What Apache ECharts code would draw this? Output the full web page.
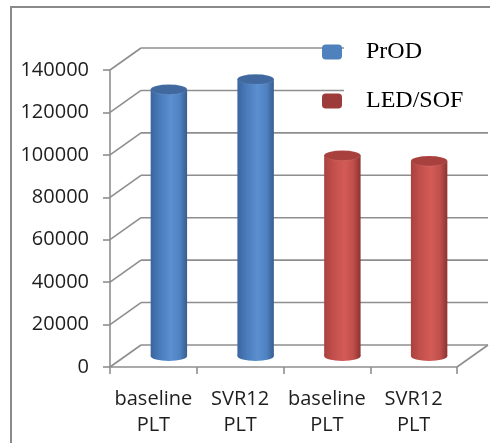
<!DOCTYPE html>
<html>
<head>
<meta charset="utf-8">
<script src="https://cdn.jsdelivr.net/npm/echarts@6/dist/echarts.min.js"></script>
<style>
html,body{margin:0;padding:0;background:#fff;}
#chart{width:490px;height:443px;}
</style>
</head>
<body>
<div id="chart"></div>
<script>
// ---- data ----
const categories = ['baseline\nPLT', 'SVR12\nPLT', 'baseline\nPLT', 'SVR12\nPLT'];
const seriesNames = ['PrOD', 'LED/SOF'];
const prodValues = [125600, 130400, null, null];
const ledSofValues = [null, null, 94500, 91900];
const yTicks = [0, 20000, 40000, 60000, 80000, 100000, 120000, 140000];
const yMin = 0, yMax = 140000, yStep = 20000;

// ---- style constants ----
const DX = 31, DY = -22;          // depth offset of back wall
const GRID_COLOR = '#8e8e8e';
const TEXT_COLOR = '#1e1e1e';
const SANS = '"Open Sans", "Liberation Sans", sans-serif';
const SERIF = '"Liberation Serif", "DejaVu Serif", serif';

const palettes = {
  'PrOD': {
    legend: '#4F81BD',
    body: [['#3a659f', 0], ['#4a7bbb', 0.25], ['#5b8fd0', 0.55], ['#4f82c0', 0.8], ['#375d91', 1]],
    top: '#41699f'
  },
  'LED/SOF': {
    legend: '#9c3b39',
    body: [['#a9423f', 0], ['#c24f4b', 0.25], ['#d35b57', 0.55], ['#c04f4b', 0.8], ['#8c3330', 1]],
    top: '#a8413e'
  }
};

function gradient(stops) {
  return new echarts.graphic.LinearGradient(0, 0, 1, 0,
    stops.map(s => ({ offset: s[1], color: s[0] })));
}

function wallRender(params, api) {
  const cs = params.coordSys;
  const v = api.value(1);
  const y = api.coord([0, v])[1];
  const x0 = cs.x, x1 = cs.x + cs.width;
  const style = { stroke: GRID_COLOR, lineWidth: 1.6, fill: null };
  const children = [
    { type: 'line', shape: { x1: x0, y1: y, x2: x0 + DX, y2: y + DY }, style },
    { type: 'line', shape: { x1: x0 + DX, y1: y + DY, x2: x1 + DX, y2: y + DY }, style }
  ];
  if (v === yMin) {
    children.push({ type: 'line', shape: { x1: x1, y1: y, x2: x1 + DX, y2: y + DY }, style });
  }
  return { type: 'group', children };
}

function barRender(name) {
  return function (params, api) {
    const idx = api.value(0);
    const val = api.value(1);
    if (val == null || isNaN(val)) return null;
    const top = api.coord([idx, val]);
    const base = api.coord([idx, yMin]);
    const band = api.size([1, 0])[0];
    const w = band * 0.42;
    const r = w / 2;
    const ry = 5;
    const cx = top[0] + DX / 2;
    const ty = top[1] + DY / 2;
    const by = base[1] + DY / 2;
    const pal = palettes[name];
    const body = gradient(pal.body);
    return {
      type: 'group',
      children: [
        { type: 'circle', x: cx, y: by, scaleY: ry / r, shape: { cx: 0, cy: 0, r: r }, style: { fill: body } },
        { type: 'rect', shape: { x: cx - r, y: ty, width: w, height: by - ty }, style: { fill: body } },
        { type: 'circle', x: cx, y: ty, scaleY: ry / r, shape: { cx: 0, cy: 0, r: r },
          style: { fill: pal.top, stroke: 'rgba(255,255,255,0.15)', lineWidth: 0.8 } }
      ]
    };
  };
}

const chart = echarts.init(document.getElementById('chart'), null, { renderer: 'canvas' });

const option = {
  animation: false,
  backgroundColor: '#fff',
  grid: { left: 110, right: 33, top: 70, bottom: 76, containLabel: false },
  xAxis: {
    type: 'category',
    data: categories,
    axisLine: { show: true, lineStyle: { color: GRID_COLOR, width: 1.6 } },
    axisTick: { show: true, length: 7, lineStyle: { color: GRID_COLOR, width: 1.6 } },
    axisLabel: { fontFamily: SANS, fontSize: 20, lineHeight: 26, color: TEXT_COLOR, margin: 19, interval: 0 },
    splitLine: { show: false }
  },
  yAxis: {
    type: 'value',
    min: yMin, max: yMax, interval: yStep,
    axisLine: { show: true, lineStyle: { color: GRID_COLOR, width: 1.6 } },
    axisTick: { show: true, length: 7, lineStyle: { color: GRID_COLOR, width: 1.6 } },
    axisLabel: { fontFamily: SANS, fontSize: 20, color: TEXT_COLOR, margin: 21,
      formatter: v => yTicks.indexOf(v) >= 0 ? String(v) : '' },
    splitLine: { show: false }
  },
  legend: {
    orient: 'vertical',
    left: 322, top: 40, padding: 0,
    itemWidth: 20, itemHeight: 15, itemGap: 25,
    icon: 'roundRect',
    symbolKeepAspect: false,
    data: seriesNames.map(n => ({ name: n, itemStyle: { color: palettes[n].legend, borderWidth: 0 } })),
    textStyle: { fontFamily: SERIF, fontSize: 24, lineHeight: 24, color: '#000', padding: [0, 0, 0, 19] },
    selectedMode: false,
    z: 6
  },
  graphic: [
    { type: 'rect', z: -1, shape: { x: 11, y: 7, width: 600, height: 600 },
      style: { fill: null, stroke: '#8a8a8a', lineWidth: 2 } },
    { type: 'rect', z: 4, shape: { x: 344, y: 30, width: 150, height: 88 },
      style: { fill: '#fff' } }
  ],
  series: [
    {
      type: 'custom', name: 'walls', clip: false, z: 1, silent: true,
      renderItem: wallRender,
      data: yTicks.map(v => [0, v])
    },
    {
      type: 'custom', name: seriesNames[0], clip: false, z: 2,
      itemStyle: { color: palettes['PrOD'].legend },
      renderItem: barRender('PrOD'),
      data: prodValues.map((v, i) => [i, v])
    },
    {
      type: 'custom', name: seriesNames[1], clip: false, z: 2,
      itemStyle: { color: palettes['LED/SOF'].legend },
      renderItem: barRender('LED/SOF'),
      data: ledSofValues.map((v, i) => [i, v])
    }
  ]
};
chart.setOption(option);
</script>
</body>
</html>
